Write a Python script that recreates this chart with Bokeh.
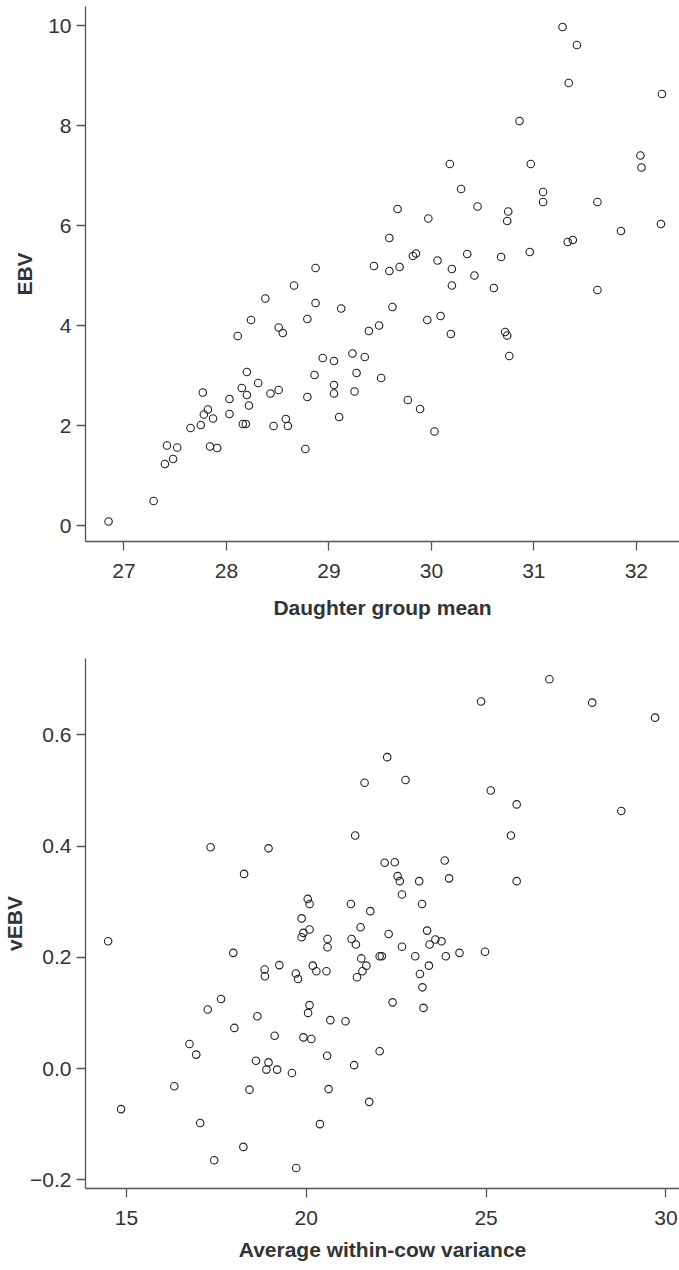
from bokeh.plotting import figure
from bokeh.layouts import column
from bokeh.models import FixedTicker, Range1d, Title
from bokeh.embed import file_html
from bokeh.resources import INLINE

# ---- Top panel data: Daughter group mean vs EBV ----
dgm = [26.85, 27.29, 27.40, 27.42, 27.48, 27.52, 27.65, 27.75, 27.77, 27.78,
       27.82, 27.87, 27.84, 27.91, 28.03, 28.03, 28.11, 28.15, 28.16, 28.19,
       28.20, 28.20, 28.22, 28.24, 28.31, 28.38, 28.43, 28.46, 28.51, 28.51,
       28.55, 28.58, 28.60, 28.66, 28.77, 28.79, 28.79, 28.86, 28.87, 28.94,
       29.05, 29.05, 29.05, 29.10, 29.12, 28.87, 30.20, 30.61, 31.62, 29.62,
       29.96, 30.09, 30.19, 29.39, 29.49, 30.72, 30.74, 30.76, 29.23, 29.35,
       29.27, 29.51, 29.25, 29.77, 29.89, 30.03, 31.28, 31.42, 31.34, 32.25,
       30.86, 30.18, 30.97, 32.04, 32.05, 30.29, 31.09, 31.09, 31.62, 29.67,
       30.45, 30.75, 30.74, 29.97, 32.24, 29.59, 31.85, 31.33, 31.38, 29.85,
       29.82, 29.44, 29.59, 29.69, 30.06, 30.35, 30.20, 30.68, 30.96, 30.42]
ebv = [0.08, 0.49, 1.23, 1.60, 1.33, 1.56, 1.95, 2.01, 2.66, 2.22,
       2.32, 2.14, 1.58, 1.55, 2.53, 2.23, 3.79, 2.75, 2.03, 2.03,
       3.07, 2.61, 2.40, 4.11, 2.85, 4.54, 2.64, 1.99, 3.96, 2.71,
       3.85, 2.13, 1.99, 4.80, 1.53, 4.13, 2.57, 3.01, 4.45, 3.35,
       3.29, 2.81, 2.64, 2.17, 4.34, 5.15, 4.80, 4.75, 4.71, 4.37,
       4.11, 4.19, 3.83, 3.89, 4.00, 3.87, 3.80, 3.39, 3.44, 3.37,
       3.05, 2.95, 2.68, 2.51, 2.33, 1.88, 9.97, 9.61, 8.85, 8.63,
       8.09, 7.23, 7.23, 7.40, 7.16, 6.73, 6.67, 6.47, 6.47, 6.33,
       6.38, 6.28, 6.09, 6.14, 6.03, 5.75, 5.89, 5.67, 5.71, 5.44,
       5.39, 5.19, 5.09, 5.17, 5.30, 5.43, 5.13, 5.37, 5.47, 5.00]
top_xticks = [27, 28, 29, 30, 31, 32]
top_yticks = [0, 2, 4, 6, 8, 10]

# ---- Bottom panel data: Average within-cow variance vs vEBV ----
wcv = [14.49, 17.34, 18.95, 18.27, 20.04, 20.09, 19.87, 20.09, 19.92, 19.87,
       20.59, 20.59, 17.97, 18.84, 18.85, 19.25, 19.71, 19.77, 20.18, 20.28,
       20.56, 17.63, 17.26, 18.64, 18.00, 20.09, 20.05, 20.67, 19.12, 19.92,
       20.14, 16.75, 16.94, 20.58, 18.60, 18.95, 18.89, 19.19, 19.60, 16.33,
       18.42, 20.62, 14.85, 17.05, 20.38, 18.25, 17.44, 19.72, 21.09, 21.33,
       22.04, 21.75, 22.40, 23.26, 23.23, 23.16, 23.41, 21.41, 21.56, 21.67,
       21.53, 22.04, 22.10, 23.03, 23.88, 24.26, 24.97, 22.66, 23.43, 23.59,
       23.76, 21.26, 21.38, 22.29, 23.36, 26.76, 24.86, 27.95, 29.70, 22.25,
       21.62, 22.76, 25.13, 25.85, 28.76, 21.36, 25.69, 22.18, 22.46, 23.85,
       22.54, 22.60, 23.14, 23.97, 25.85, 22.66, 21.24, 23.22, 21.78, 21.51]
vebv = [0.229, 0.398, 0.396, 0.350, 0.305, 0.296, 0.270, 0.250, 0.244, 0.236,
        0.233, 0.218, 0.208, 0.178, 0.166, 0.186, 0.171, 0.161, 0.185, 0.175,
        0.175, 0.125, 0.106, 0.094, 0.073, 0.114, 0.100, 0.087, 0.059, 0.056,
        0.053, 0.044, 0.025, 0.023, 0.014, 0.011, -0.002, -0.002, -0.008, -0.032,
        -0.038, -0.037, -0.073, -0.098, -0.100, -0.141, -0.165, -0.179, 0.085, 0.006,
        0.031, -0.060, 0.119, 0.109, 0.146, 0.170, 0.185, 0.164, 0.175, 0.185,
        0.198, 0.202, 0.202, 0.202, 0.202, 0.208, 0.210, 0.219, 0.223, 0.232,
        0.229, 0.233, 0.223, 0.242, 0.248, 0.700, 0.660, 0.658, 0.631, 0.560,
        0.514, 0.519, 0.500, 0.475, 0.463, 0.419, 0.419, 0.370, 0.371, 0.374,
        0.346, 0.337, 0.337, 0.342, 0.337, 0.313, 0.296, 0.296, 0.283, 0.254]
bot_xticks = [15, 20, 25, 30]
bot_yticks = [-0.2, 0.0, 0.2, 0.4, 0.6]
bot_ylabels = ["\u22120.2", "0.0", "0.2", "0.4", "0.6"]

FONT = "Liberation Sans"
TXT = "#333333"
AX = "#555555"


def style(p, xlabel, ylabel, xlabel_standoff, ytitle_standoff):
    p.grid.visible = False
    p.outline_line_color = None
    p.background_fill_color = "white"
    p.border_fill_color = "white"
    for ax in (p.xaxis[0], p.yaxis[0]):
        ax.axis_line_color = AX
        ax.axis_line_width = 1.3
        ax.major_tick_line_color = AX
        ax.major_tick_line_width = 1.3
        ax.major_tick_out = 9
        ax.major_tick_in = 0
        ax.minor_tick_line_color = None
        ax.major_label_text_font = FONT
        ax.major_label_text_font_size = "21px"
        ax.major_label_text_color = TXT
        ax.axis_label_text_font = FONT
        ax.axis_label_text_font_size = "21px"
        ax.axis_label_text_font_style = "bold"
        ax.axis_label_text_color = TXT
    p.xaxis.axis_label = xlabel
    p.xaxis.major_label_standoff = 13
    p.xaxis.axis_label_standoff = xlabel_standoff
    p.yaxis.major_label_standoff = 5
    p.yaxis.major_label_orientation = "horizontal"
    t = Title(text=ylabel, align="center", vertical_align="middle", text_font=FONT,
              text_font_size="21px", text_font_style="bold", text_color=TXT,
              standoff=ytitle_standoff, offset=0)
    p.add_layout(t, "left")


p1 = figure(width=679, height=630, output_backend="svg", toolbar_location=None,
            x_range=Range1d(26.625, 32.421), y_range=Range1d(-0.32, 10.38),
            min_border_left=85, min_border_right=0, min_border_top=6, min_border_bottom=89)
p1.scatter(dgm, ebv, marker="circle", size=7.5, fill_color=None,
           line_color="#222222", line_width=1.1)
style(p1, "Daughter group mean", "EBV", 15, 18)
p1.xaxis.ticker = FixedTicker(ticks=top_xticks)
p1.yaxis.ticker = FixedTicker(ticks=top_yticks)

p2 = figure(width=679, height=640, output_backend="svg", toolbar_location=None,
            x_range=Range1d(13.860, 30.378), y_range=Range1d(-0.2158, 0.7374),
            min_border_left=85, min_border_right=0, min_border_top=28, min_border_bottom=82)
p2.scatter(wcv, vebv, marker="circle", size=7.5, fill_color=None,
           line_color="#222222", line_width=1.1)
style(p2, "Average within-cow variance", "vEBV", 10, 2)
p2.xaxis.ticker = FixedTicker(ticks=bot_xticks)
p2.yaxis.ticker = FixedTicker(ticks=bot_yticks)
p2.yaxis.major_label_overrides = dict(zip(bot_yticks, bot_ylabels))

layout = column(p1, p2, spacing=0)
open("out.html", "w").write(file_html(layout, INLINE))
